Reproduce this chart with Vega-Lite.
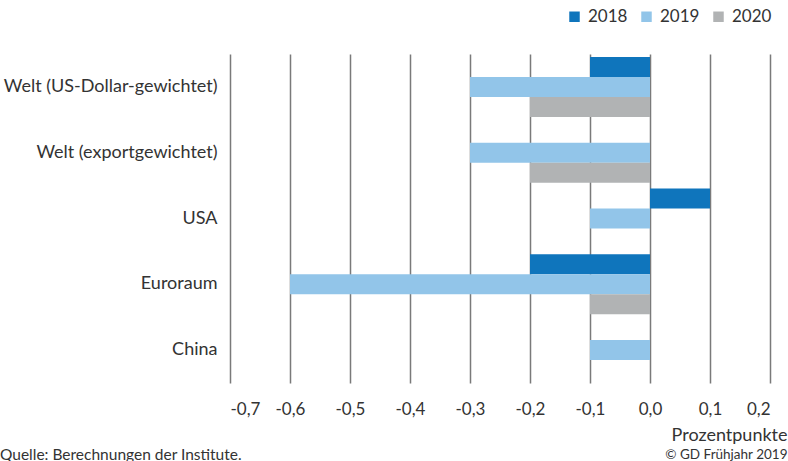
{
  "$schema": "https://vega.github.io/schema/vega-lite/v6.json",
  "autosize": "none",
  "width": 540,
  "height": 329,
  "padding": {"left": 230, "top": 54, "right": 18, "bottom": 78},
  "background": "white",
  "config": {
    "font": "Lato",
    "view": {"stroke": null},
    "axis": {"labelColor": "#333333", "titleColor": "#333333", "labelFont": "Lato", "titleFont": "Lato"},
    "legend": {"labelFont": "Lato"}
  },
  "title": {
    "text": "Quelle: Berechnungen der Institute.",
    "orient": "bottom",
    "anchor": "start",
    "frame": "group",
    "dx": -230,
    "offset": -13,
    "fontSize": 15.5,
    "fontWeight": "normal",
    "color": "#333333",
    "font": "Lato"
  },
  "data": {
    "values": [
      {"region": "Welt (US-Dollar-gewichtet)", "jahr": "2018", "wert": -0.1},
      {"region": "Welt (US-Dollar-gewichtet)", "jahr": "2019", "wert": -0.3},
      {"region": "Welt (US-Dollar-gewichtet)", "jahr": "2020", "wert": -0.2},
      {"region": "Welt (exportgewichtet)", "jahr": "2018", "wert": 0},
      {"region": "Welt (exportgewichtet)", "jahr": "2019", "wert": -0.3},
      {"region": "Welt (exportgewichtet)", "jahr": "2020", "wert": -0.2},
      {"region": "USA", "jahr": "2018", "wert": 0.1},
      {"region": "USA", "jahr": "2019", "wert": -0.1},
      {"region": "USA", "jahr": "2020", "wert": 0},
      {"region": "Euroraum", "jahr": "2018", "wert": -0.2},
      {"region": "Euroraum", "jahr": "2019", "wert": -0.6},
      {"region": "Euroraum", "jahr": "2020", "wert": -0.1},
      {"region": "China", "jahr": "2018", "wert": 0},
      {"region": "China", "jahr": "2019", "wert": -0.1},
      {"region": "China", "jahr": "2020", "wert": 0}
    ]
  },
  "mark": {"type": "bar"},
  "encoding": {
    "y": {
      "field": "region",
      "type": "nominal",
      "sort": ["Welt (US-Dollar-gewichtet)", "Welt (exportgewichtet)", "USA", "Euroraum", "China"],
      "scale": {"paddingInner": 0.087, "paddingOuter": 0.044},
      "axis": {
        "title": "© GD Frühjahr 2019",
        "titleAngle": 0,
        "titleX": 557,
        "titleY": 404,
        "titleAlign": "right",
        "titleBaseline": "alphabetic",
        "titleFontSize": 13.5,
        "titleFontWeight": "normal",
        "labelFontSize": 18,
        "labelLimit": 300,
        "labelPadding": 13,
        "ticks": false,
        "domain": false,
        "grid": false
      }
    },
    "yOffset": {
      "field": "jahr",
      "type": "nominal",
      "sort": ["2018", "2019", "2020"],
      "scale": {"paddingInner": 0, "paddingOuter": 0}
    },
    "x": {
      "field": "wert",
      "type": "quantitative",
      "scale": {"domain": [-0.7, 0.2], "nice": false, "zero": false},
      "axis": {
        "title": "Prozentpunkte",
        "titleX": 557,
        "titleY": 57,
        "titleAlign": "right",
        "titleBaseline": "alphabetic",
        "titleFontSize": 18,
        "titleFontWeight": "normal",
        "values": [-0.7, -0.6, -0.5, -0.4, -0.3, -0.2, -0.1, 0, 0.1, 0.2],
        "format": ".1f",
        "formatType": "number",
        "labelExpr": "replace(replace(datum.label, '.', ','), '−', '-')",
        "labelFontSize": 17,
        "labelPadding": 18,
        "ticks": false,
        "domain": false,
        "grid": true,
        "gridColor": "#7a7a7a",
        "gridWidth": 1.5,
        "gridOpacity": 1
      }
    },
    "color": {
      "field": "jahr",
      "type": "nominal",
      "scale": {"domain": ["2018", "2019", "2020"], "range": ["#0f75bc", "#92c5e9", "#b1b3b4"]},
      "legend": {
        "title": null,
        "orient": "none",
        "legendX": 336,
        "legendY": -46,
        "direction": "horizontal",
        "symbolType": "square",
        "symbolSize": 110,
        "symbolStrokeWidth": 0,
        "labelFontSize": 17,
        "labelColor": "#333333",
        "labelOffset": 5,
        "columnSpacing": 30
      }
    }
  }
}
